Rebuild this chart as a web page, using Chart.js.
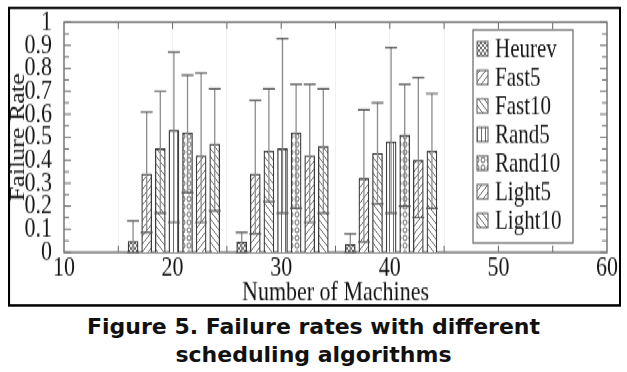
<!DOCTYPE html>
<html>
<head>
<meta charset="utf-8">
<script src="https://cdn.jsdelivr.net/npm/chart.js@4.4.1/dist/chart.umd.min.js"></script>
<style>
  html, body { margin: 0; padding: 0; background: #fff; width: 627px; height: 372px; overflow: hidden; }
  /* the original figure is stretched vertically, so the chart is drawn short and scaled up */
  #fig { position: absolute; left: 0; top: 0; width: 627px; height: 238px; transform: scaleY(1.3); transform-origin: 0 0; }
  #wrap { position: absolute; left: 0; top: 0; width: 627px; height: 238px; }
  #frame { position: absolute; left: 8px; top: 4.6px; width: 613px; height: 231.5px; border: 2px solid #000; box-sizing: border-box; pointer-events: none; }
  #caption { position: absolute; left: 0; top: 313px; width: 627px; text-align: center;
             font-family: "DejaVu Sans", sans-serif; font-weight: bold; font-size: 22px; line-height: 28px; color: #111; }
</style>
</head>
<body>
<div id="fig">
  <div id="wrap"><canvas id="myChart"></canvas></div>
  <div id="frame"></div>
</div>
<div id="caption">Figure 5. Failure rates with different<br>scheduling algorithms</div>

<script>
// number of machines in each group
const machineGroups = [20, 30, 40];
const algorithms = ['Heurev', 'Fast5', 'Fast10', 'Rand5', 'Rand10', 'Light5', 'Light10'];

// mean failure rate, one row per algorithm (values for 20, 30, 40 machines)
const failureMean = [
  [0.048, 0.044, 0.034],
  [0.34, 0.34, 0.32],
  [0.45, 0.44, 0.43],
  [0.53, 0.45, 0.48],
  [0.52, 0.52, 0.51],
  [0.42, 0.42, 0.40],
  [0.47, 0.46, 0.44]
];
// lower and upper ends of the error bars
const failureLow = [
  [0.0, 0.0, 0.0],
  [0.086, 0.08, 0.044],
  [0.17, 0.22, 0.21],
  [0.13, 0.17, 0.17],
  [0.26, 0.19, 0.20],
  [0.13, 0.13, 0.15],
  [0.18, 0.17, 0.19]
];
const failureHigh = [
  [0.136, 0.086, 0.08],
  [0.61, 0.66, 0.62],
  [0.70, 0.71, 0.65],
  [0.87, 0.93, 0.89],
  [0.77, 0.73, 0.73],
  [0.78, 0.73, 0.76],
  [0.71, 0.71, 0.69]
];
const xTicks = [10, 20, 30, 40, 50, 60];

const patternKinds = ['check', 'fwd', 'back', 'vert', 'dots', 'fwd', 'back'];
const BAR_STEP = 1.253;   // spacing between bars inside a group, in machines
const GROUP_SHIFT = 0.12;

const canvas = document.getElementById('myChart');
const mainCtx = canvas.getContext('2d');

function makePattern(kind) {
  const s = kind === 'vert' ? 4 : (kind === 'check' ? 4 : 6);
  const c = document.createElement('canvas');
  c.width = s; c.height = s;
  const p = c.getContext('2d');
  p.fillStyle = '#fff';
  p.fillRect(0, 0, s, s);
  p.strokeStyle = '#6a6a6a';
  p.fillStyle = '#6a6a6a';
  p.lineWidth = 1;
  p.beginPath();
  if (kind === 'fwd') {
    p.moveTo(0, s); p.lineTo(s, 0);
    p.moveTo(-1, 1); p.lineTo(1, -1);
    p.moveTo(s - 1, s + 1); p.lineTo(s + 1, s - 1);
    p.stroke();
  } else if (kind === 'back') {
    p.moveTo(0, 0); p.lineTo(s, s);
    p.moveTo(-1, s - 1); p.lineTo(1, s + 1);
    p.moveTo(s - 1, -1); p.lineTo(s + 1, 1);
    p.stroke();
  } else if (kind === 'vert') {
    p.moveTo(1.5, 0); p.lineTo(1.5, s);
    p.stroke();
  } else if (kind === 'check') {
    p.fillRect(0, 0, 2, 2);
    p.fillRect(2, 2, 2, 2);
  } else if (kind === 'dots') {
    p.arc(s / 2, s / 2, 2, 0, Math.PI * 2);
    p.stroke();
  }
  return mainCtx.createPattern(c, 'repeat');
}
const patterns = patternKinds.map(makePattern);

const serif = '"Liberation Serif", "Times New Roman", serif';
const textColor = '#161616';

// axis box, inward ticks on all four sides
const axisFrame = {
  id: 'axisFrame',
  beforeDatasetsDraw(chart) {
    const {ctx, chartArea: a, scales: {x, y}} = chart;
    ctx.save();
    ctx.strokeStyle = '#666';
    ctx.lineWidth = 1;
    for (let v = 0; v <= 1.0001; v += 0.05) {
      const py = y.getPixelForValue(v);
      const len = Math.round(v * 20) % 2 === 0 ? 7 : 5;
      ctx.beginPath();
      ctx.moveTo(a.left, py); ctx.lineTo(a.left + len, py);
      ctx.moveTo(a.right, py); ctx.lineTo(a.right - len, py);
      ctx.stroke();
    }
    for (let v = 15; v < 60; v += 5) {
      const px = x.getPixelForValue(v);
      ctx.beginPath();
      ctx.moveTo(px, a.top); ctx.lineTo(px, a.top + 5);
      ctx.moveTo(px, a.bottom); ctx.lineTo(px, a.bottom - 5);
      ctx.stroke();
    }
    ctx.strokeStyle = '#777';
    ctx.lineWidth = 1.5;
    ctx.strokeRect(a.left, a.top, a.right - a.left, a.bottom - a.top);
    ctx.restore();
  }
};

const errorBars = {
  id: 'errorBars',
  afterDatasetsDraw(chart) {
    const {ctx, scales: {y}} = chart;
    ctx.save();
    chart.data.datasets.forEach((ds, i) => {
      chart.getDatasetMeta(i).data.forEach((bar, j) => {
        const top = y.getPixelForValue(failureHigh[i][j]);
        const bot = y.getPixelForValue(failureLow[i][j]);
        ctx.strokeStyle = '#8c8c8c';
        ctx.lineWidth = 1.3;
        ctx.beginPath();
        ctx.moveTo(bar.x, bot); ctx.lineTo(bar.x, top);
        ctx.stroke();
        ctx.strokeStyle = '#555';
        ctx.lineWidth = 1.2;
        ctx.beginPath();
        ctx.moveTo(bar.x - 6, top); ctx.lineTo(bar.x + 6, top);
        ctx.moveTo(bar.x - 6, bot); ctx.lineTo(bar.x + 6, bot);
        ctx.stroke();
      });
    });
    ctx.restore();
  }
};

// legend box inside the plot, top right
const boxLegend = {
  id: 'boxLegend',
  afterDraw(chart) {
    const ctx = chart.ctx;
    ctx.save();
    ctx.fillStyle = '#fff';
    ctx.fillRect(473, 23, 100, 164);
    ctx.strokeStyle = '#666';
    ctx.lineWidth = 1.2;
    ctx.strokeRect(473, 23, 100, 164);
    ctx.font = '21px ' + serif;
    ctx.textBaseline = 'middle';
    chart.data.datasets.forEach((ds, i) => {
      const cy = 37.5 + i * 22;
      ctx.fillStyle = ds.backgroundColor;
      ctx.fillRect(477, cy - 5.5, 11, 11);
      ctx.strokeStyle = '#555';
      ctx.lineWidth = 1;
      ctx.strokeRect(477, cy - 5.5, 11, 11);
      ctx.fillStyle = textColor;
      ctx.fillText(ds.label, 495, cy + 1);
    });
    ctx.restore();
  }
};

const data = {
  datasets: algorithms.map((name, i) => ({
    label: name,
    data: machineGroups.map((g, j) => ({ x: g + GROUP_SHIFT + (i - 3) * BAR_STEP, y: failureMean[i][j] })),
    backgroundColor: patterns[i],
    borderColor: '#3c3c3c',
    borderWidth: 1.3,
    barThickness: 10,
    grouped: false
  }))
};

const options = {
  responsive: true,
  maintainAspectRatio: false,
  animation: false,
  layout: { padding: { left: 0, right: 20, top: 13, bottom: 0 } },
  plugins: { legend: { display: false }, tooltip: { enabled: false } },
  scales: {
    x: {
      type: 'linear',
      min: 10, max: 60,
      offset: false,
      afterFit: (scale) => { scale.height = 44; },
      afterBuildTicks: (scale) => {
        const t = [];
        for (let v = 10; v <= 60; v += 5) t.push({ value: v });
        scale.ticks = t;
      },
      ticks: {
        autoSkip: false,
        maxRotation: 0,
        padding: 0,
        color: textColor,
        font: { family: serif, size: 22, lineHeight: 1.1 },
        callback: (v) => xTicks.includes(v) ? String(v) : ''
      },
      grid: {
        offset: false,
        drawTicks: false,
        color: (c) => (c.tick && (c.tick.value === 10 || c.tick.value === 60)) ? 'rgba(0,0,0,0)' : '#f1f1f1',
        lineWidth: 1
      },
      border: { display: false },
      title: {
        display: true,
        text: 'Number of Machines',
        color: textColor,
        font: { family: serif, size: 22, lineHeight: 1.2 },
        padding: { top: 0, bottom: 0 }
      }
    },
    y: {
      min: 0, max: 1,
      afterFit: (scale) => { scale.width = 64; },
      ticks: {
        stepSize: 0.1,
        autoSkip: false,
        padding: 4,
        color: textColor,
        font: { family: serif, size: 22, lineHeight: 1.2 },
        callback: (v) => {
          const r = Math.round(v * 10) / 10;
          return r === 0 ? '0' : (r === 1 ? '1' : r.toFixed(1));
        }
      },
      grid: { display: false },
      border: { display: false },
      title: {
        display: true,
        text: 'Failure Rate',
        color: textColor,
        font: { family: serif, size: 20, lineHeight: 1.2 },
        padding: { top: 7, bottom: 0 }
      }
    }
  }
};

new Chart(canvas, {
  type: 'bar',
  data: data,
  options: options,
  plugins: [axisFrame, errorBars, boxLegend]
});
</script>
</body>
</html>
